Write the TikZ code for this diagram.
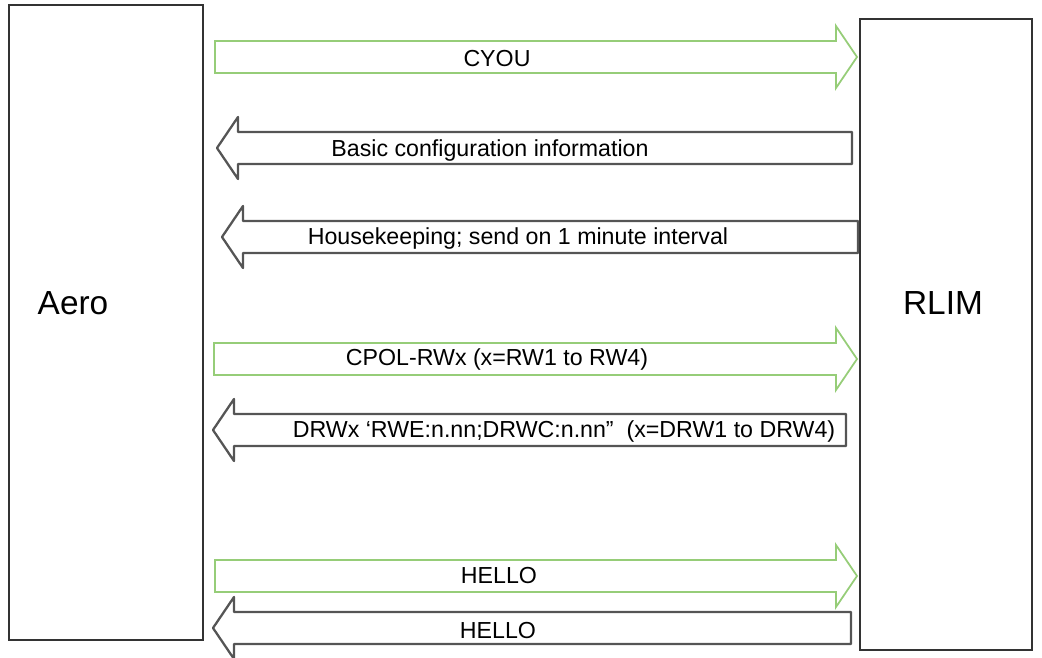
\documentclass[tikz,border=0pt]{standalone}
\usepackage{fontspec}
\setmainfont{Liberation Sans}
\usetikzlibrary{positioning}

\definecolor{sendgreen}{RGB}{150,205,120}
\definecolor{replygray}{RGB}{85,85,85}

\newcommand{\sendarrow}[4]{%
  \draw[#4] (#1,#3-16) -- (#2-21,#3-16) -- (#2-21,#3-31) -- (#2,#3)
    -- (#2-21,#3+31) -- (#2-21,#3+16) -- (#1,#3+16) -- cycle;}
\newcommand{\replyarrow}[4]{%
  \draw[#4] (#1,#3-16) -- (#2+21,#3-16) -- (#2+21,#3-31) -- (#2,#3)
    -- (#2+21,#3+31) -- (#2+21,#3+16) -- (#1,#3+16) -- cycle;}

\begin{document}
\begin{tikzpicture}[x=0.02cm,y=-0.02cm,
  unit/.style={draw=black!80,line width=0.8pt,inner sep=0pt},
  unitname/.style={font=\fontsize{19}{22}\selectfont},
  msg/.style={font=\fontsize{13.2}{16}\selectfont,inner sep=1pt},
  send/.style={draw=sendgreen,line width=1pt},
  reply/.style={draw=replygray,line width=1.3pt,line join=round}]
  \useasboundingbox (0,0) rectangle (1042,658);

  \node[unit,minimum width=3.88cm,minimum height=12.7cm] (aero) at (106,322.5) {};
  \node[unit,minimum width=3.44cm,minimum height=12.62cm] (rlim) at (946,334.5) {};
  \node[unitname] (aero_t) at (73,303) {Aero};
  \node[unitname] (rlim_t) at (943,303) {RLIM};

  \sendarrow{215}{857}{57}{send}
  \replyarrow{852}{217}{148}{reply}
  \replyarrow{858}{222}{237}{reply}
  \sendarrow{214}{857}{359}{send}
  \replyarrow{846}{213}{430}{reply}
  \sendarrow{215}{857}{576}{send}
  \replyarrow{851}{213}{628}{reply}

  \node[msg] (cyou)  at (497,59)  {CYOU};
  \node[msg] (basic) at (490,151) {Basic configuration information};
  \node[msg] (hk)    at (518,239) {Housekeeping; send on 1 minute interval};
  \node[msg] (cpol)  at (497,360) {CPOL-RWx (x=RW1 to RW4)};
  \node[msg] (drw)   at (564,432) {DRWx ‘RWE:n.nn;DRWC:n.nn”\ \ (x=DRW1 to DRW4)};
  \node[msg] (hi_s)  at (499,576) {HELLO};
  \node[msg] (hi_r)  at (498,631) {HELLO};
\end{tikzpicture}
\end{document}
